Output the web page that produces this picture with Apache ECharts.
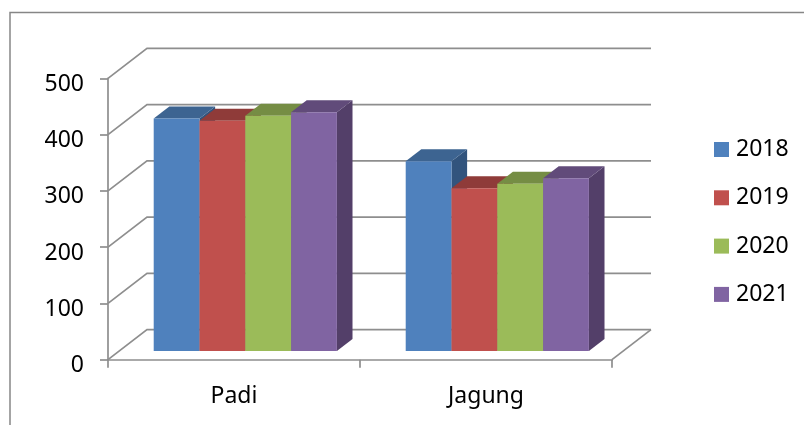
<!DOCTYPE html>
<html>
<head>
<meta charset="utf-8">
<style>html,body{margin:0;padding:0;background:#fff;overflow:hidden}#chart{width:804px;height:425px}</style>
<script src="https://cdn.jsdelivr.net/npm/echarts@6/dist/echarts.min.js"></script>
</head>
<body>
<div id="chart"></div>
<script>
const categories = ['Padi', 'Jagung'];
const years = ['2018', '2019', '2020', '2021'];
const values2018 = [413, 337];
const values2019 = [409, 289];
const values2020 = [418, 297];
const values2021 = [424, 307];
const yTicks = [0, 100, 200, 300, 400, 500];

const yearValues = [values2018, values2019, values2020, values2021];
const frontColors = ['#4F81BD', '#C0504D', '#9BBB59', '#8064A2'];
const topColors = ['#3D6491', '#8F3B39', '#758D44', '#614B7A'];
const sideColors = ['#32547D', '#7D3331', '#657A3A', '#533F69'];

const FONT = '"Noto Sans"';
const FONT_SIZE = 23;
const LINE = '#8E8E8E';
const LINE_WIDTH = 1.7;
// Oblique projection of the floor depth onto the screen.
const DEPTH_X = 39;
const DEPTH_Y = 30;
const BAR_FRONT = 0.29;   // where the bars start along the floor depth
const BAR_DEPTH = 0.40;   // how much of the depth each bar occupies
const BAR_SHARE = 45.8 / 252;

function renderWall(params, api) {
  const rect = params.coordSys;
  const y = api.coord([0, api.value(1)])[1];
  const left = rect.x;
  const right = rect.x + rect.width;
  const children = [{
    type: 'polyline',
    shape: { points: [[left, y], [left + DEPTH_X, y - DEPTH_Y], [right + DEPTH_X, y - DEPTH_Y]] },
    style: { fill: null, stroke: LINE, lineWidth: LINE_WIDTH }
  }];
  if (api.value(1) === 0) {
    children.push({
      type: 'line',
      shape: { x1: right, y1: y, x2: right + DEPTH_X, y2: y - DEPTH_Y },
      style: { stroke: LINE, lineWidth: LINE_WIDTH }
    });
  }
  return { type: 'group', children };
}

function renderBar(seriesIndex) {
  return function (params, api) {
    const centre = api.coord([api.value(0), 0]);
    const top = api.coord([api.value(0), api.value(1)]);
    const w = api.size([1, 0])[0] * BAR_SHARE;
    const sx = DEPTH_X * BAR_FRONT;
    const sy = DEPTH_Y * BAR_FRONT;
    const dx = DEPTH_X * BAR_DEPTH;
    const dy = DEPTH_Y * BAR_DEPTH;
    const x0 = centre[0] + sx + (seriesIndex - 2) * w;
    const x1 = x0 + w;
    const yBase = centre[1] - sy;
    const yTop = top[1] - sy;
    const face = (points, fill) => ({ type: 'polygon', shape: { points }, style: { fill, stroke: null } });
    return {
      type: 'group',
      children: [
        face([[x1, yBase], [x1 + dx, yBase - dy], [x1 + dx, yTop - dy], [x1, yTop]], sideColors[seriesIndex]),
        face([[x0, yTop], [x1, yTop], [x1 + dx, yTop - dy], [x0 + dx, yTop - dy]], topColors[seriesIndex]),
        face([[x0, yBase], [x1, yBase], [x1, yTop], [x0, yTop]], frontColors[seriesIndex])
      ]
    };
  };
}

const chart = echarts.init(document.getElementById('chart'), null, { renderer: 'canvas' });
chart.setOption({
  animation: false,
  backgroundColor: '#fff',
  graphic: [{
    type: 'polyline',
    shape: { points: [[10, 425], [10, 12.5], [804, 12.5]] },
    style: { fill: null, stroke: '#868686', lineWidth: 1.5 }
  }],
  legend: {
    data: years,
    orient: 'vertical',
    left: 714,
    top: 138,
    padding: 0,
    itemWidth: 15,
    itemHeight: 15,
    itemGap: 25.3,
    icon: 'rect',
    textStyle: { fontFamily: FONT, fontSize: FONT_SIZE, color: '#000', padding: [0, 0, 0, 2] }
  },
  grid: { left: 108, top: 78.3, width: 504, height: 281.4, containLabel: false },
  xAxis: {
    type: 'category',
    data: categories,
    axisLine: { lineStyle: { color: LINE, width: LINE_WIDTH } },
    axisTick: { show: true, length: 8, lineStyle: { color: LINE, width: LINE_WIDTH } },
    axisLabel: { fontFamily: FONT, fontSize: FONT_SIZE, color: '#000', margin: 25 }
  },
  yAxis: {
    type: 'value',
    min: 0,
    max: 500,
    interval: 100,
    splitLine: { show: false },
    axisLine: { show: true, lineStyle: { color: LINE, width: LINE_WIDTH } },
    axisTick: { show: true, length: 8, lineStyle: { color: LINE, width: LINE_WIDTH } },
    axisLabel: { fontFamily: FONT, fontSize: FONT_SIZE, color: '#000', margin: 24, verticalAlign: 'top', lineHeight: 12 }
  },
  series: [
    {
      type: 'custom',
      name: 'walls',
      silent: true,
      z: 1,
      renderItem: renderWall,
      encode: { x: 0, y: 1 },
      data: yTicks.map(t => [0, t])
    }
  ].concat(years.map((year, i) => ({
    type: 'custom',
    name: year,
    z: 2 + i,
    itemStyle: { color: frontColors[i] },
    renderItem: renderBar(i),
    encode: { x: 0, y: 1 },
    data: yearValues[i].map((v, c) => [c, v])
  })))
});
</script>
</body>
</html>
